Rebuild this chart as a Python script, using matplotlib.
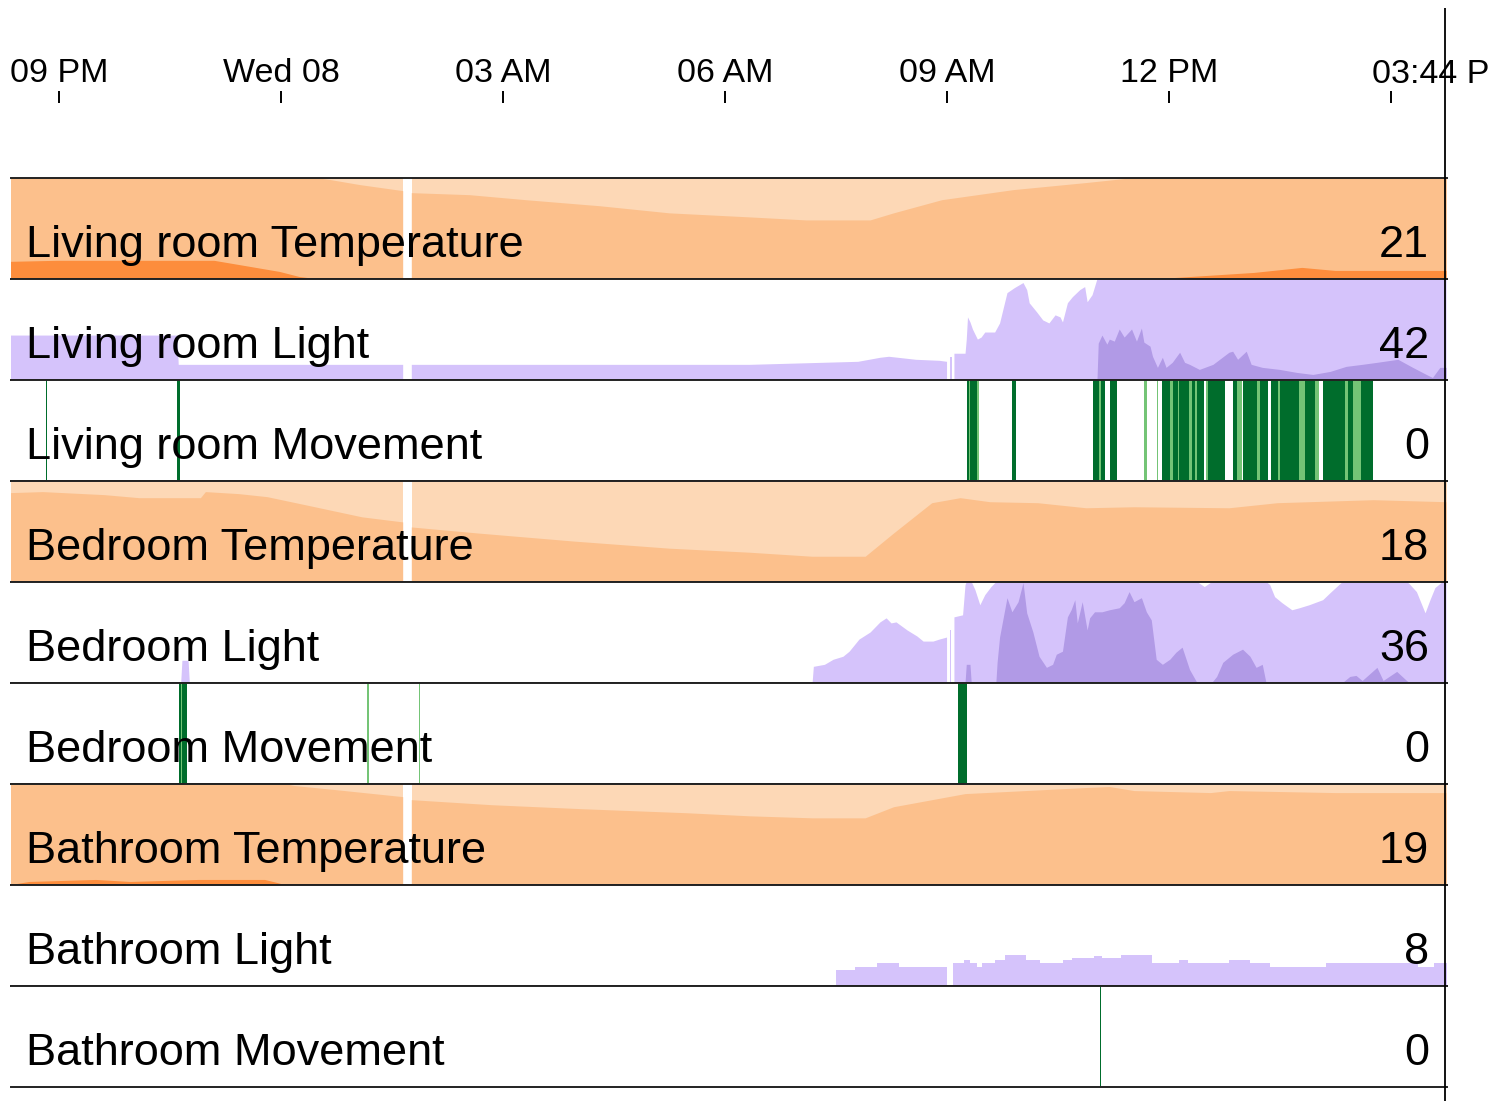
import numpy as np
import matplotlib
matplotlib.use("Agg")
import matplotlib.pyplot as plt
import matplotlib.transforms as mtransforms

plt.rcParams['font.family'] = ['Liberation Sans', 'DejaVu Sans']

nan = np.nan

# time = minutes after Tue 20:00, values are in horizon band units
t_start, t_end = 21, 1185.4
focus_t = 1184  # 03:44 PM

tick_times = [60, 240, 420, 600, 780, 960, 1140]
tick_labels = ['09 PM', 'Wed 08', '03 AM', '06 AM', '09 AM', '12 PM', '']
focus_label = '03:44 PM'

row_names = ['Living room Temperature', 'Living room Light', 'Living room Movement',
             'Bedroom Temperature', 'Bedroom Light', 'Bedroom Movement',
             'Bathroom Temperature', 'Bathroom Light', 'Bathroom Movement']
row_values = ['21', '42', '0', '18', '36', '0', '19', '8', '0']

lr_temp = [(21, 2.17), (58, 2.18), (186, 2.18), (215, 2.12), (239, 2.07), (255, 2.02),
           (268, 2.0), (280, 1.98), (304, 1.93), (339, 1.87), (342, nan), (346, 1.85),
           (393, 1.83), (439, 1.78), (499, 1.72), (555, 1.65), (620, 1.61), (666, 1.58),
           (718, 1.58), (737, 1.65), (776, 1.78), (834, 1.88), (893, 1.95), (932, 2.0),
           (965, 2.01), (1029, 2.06), (1068, 2.11), (1095, 2.08), (1185, 2.08)]

bed_temp = [(21, 1.88), (47, 1.89), (97, 1.86), (125, 1.83), (175, 1.83), (179, 1.89),
            (206, 1.87), (229, 1.84), (260, 1.76), (306, 1.64), (339, 1.59), (342, nan),
            (346, 1.54), (400, 1.48), (478, 1.40), (555, 1.33), (620, 1.29), (671, 1.25),
            (714, 1.25), (737, 1.48), (768, 1.78), (791, 1.83), (815, 1.79), (854, 1.78),
            (893, 1.73), (932, 1.74), (1009, 1.73), (1048, 1.78), (1126, 1.81), (1185, 1.79)]

bath_temp = [(21, 2.0), (36, 2.03), (90, 2.05), (118, 2.03), (173, 2.05), (227, 2.05),
             (237, 2.02), (243, 2.0), (251, 1.98), (284, 1.94), (339, 1.87), (342, nan),
             (346, 1.84), (411, 1.79), (485, 1.75), (570, 1.71), (620, 1.68), (671, 1.66),
             (714, 1.66), (737, 1.77), (795, 1.90), (893, 1.96), (912, 1.97), (932, 1.93),
             (994, 1.91), (1009, 1.93), (1095, 1.91), (1185, 1.91)]

lr_light = [(21, .44), (156, .44), (157, .15), (339, .15), (342, nan), (346, .15), (620, .15),
            (708, .18), (726, .22), (733, .23), (755, .20), (774, .19), (780, .18), (781, nan),
            (782, .23), (784, .23), (785, nan), (786, .26), (795, .26), (796, .40), (797, .62),
            (799, .57), (801, .50), (805, .40), (808, .42), (811, .47), (819, .47), (823, .56),
            (825, .66), (829, .86), (835, .91), (842, .96), (845, .89), (847, .76), (853, .67),
            (858, .59), (863, .56), (868, .64), (872, .62), (874, .57), (878, .76), (882, .82),
            (888, .89), (892, .92), (894, .77), (898, .84), (900, .92), (902, 1.0), (903, 1.36),
            (906, 1.44), (910, 1.35), (912, 1.40), (916, 1.38), (920, 1.50), (924, 1.42),
            (930, 1.50), (934, 1.38), (938, 1.51), (940, 1.37), (945, 1.33), (947, 1.23),
            (951, 1.12), (955, 1.22), (958, 1.12), (963, 1.17), (969, 1.27), (973, 1.17),
            (977, 1.15), (985, 1.10), (996, 1.15), (1009, 1.27), (1012, 1.28), (1016, 1.20),
            (1023, 1.28), (1027, 1.15), (1036, 1.12), (1050, 1.10), (1064, 1.07), (1077, 1.05),
            (1091, 1.08), (1104, 1.13), (1117, 1.15), (1129, 1.17), (1146, 1.20), (1158, 1.12),
            (1169, 1.05), (1174, 1.02), (1180, 1.12), (1185, 1.12)]

bed_light = [(21, 0), (159, 0), (160, .22), (165, .22), (166, 0), (671, 0), (672, .16),
             (681, .18), (688, .23), (696, .26), (701, .31), (709, .43), (718, .50), (726, .60),
             (731, .64), (735, .59), (739, .60), (748, .52), (756, .46), (761, .41), (769, .41),
             (774, .43), (780, .45), (781, nan), (782, .52), (783, .52), (784, nan), (786, .65),
             (793, .67), (795, .97), (796, 1.18), (799, 1.18), (800, 1.0), (803, .92), (807, .77),
             (811, .87), (816, .95), (820, 1.0), (821, 1.2), (823, 1.45), (829, 1.84), (833, 1.70),
             (838, 1.80), (842, 1.99), (845, 1.69), (850, 1.50), (855, 1.26), (861, 1.15),
             (866, 1.18), (869, 1.28), (874, 1.31), (878, 1.65), (881, 1.72), (884, 1.82),
             (886, 1.59), (890, 1.80), (894, 1.52), (896, 1.64), (900, 1.70), (906, 1.70),
             (912, 1.72), (920, 1.74), (924, 1.79), (928, 1.90), (932, 1.80), (938, 1.84),
             (942, 1.70), (946, 1.62), (950, 1.23), (955, 1.18), (961, 1.23), (966, 1.30),
             (971, 1.35), (977, 1.13), (983, 1.0), (989, .95), (995, 1.0), (999, 1.06),
             (1004, 1.20), (1012, 1.28), (1020, 1.33), (1026, 1.26), (1031, 1.15), (1036, 1.18),
             (1039, 1.0), (1042, .97), (1046, .85), (1052, .79), (1060, .72), (1066, .74),
             (1074, .77), (1085, .82), (1091, .89), (1099, .98), (1101, 1.0), (1107, 1.06),
             (1112, 1.07), (1117, 1.02), (1129, 1.15), (1134, 1.02), (1145, 1.11), (1153, 1.02),
             (1155, .98), (1161, .90), (1168, .69), (1172, .82), (1176, .94), (1182, 1.0),
             (1185, 1.0)]

# stepped series
bath_light = [(21, 0), (690, .16), (705, .19), (723, .23), (741, .19), (780, .19), (781, nan),
              (785, .23), (794, .26), (799, .23), (804, .19), (808, .23), (819, .26), (827, .31),
              (844, .26), (855, .23), (874, .26), (881, .28), (899, .30), (906, .28), (921, .31),
              (946, .23), (968, .26), (975, .23), (1009, .26), (1026, .23), (1042, .19),
              (1087, .23), (1162, .19), (1175, .23), (1185, .23)]

# movement: (start, end, level) level 2 = strong, 1 = weak
lr_move = [(49, 50, 2), (156, 158, 2),
           (796, 798, 2), (798, 799, 1), (799, 804, 2), (804, 806, 1), (833, 836, 2),
           (898, 903, 2), (903, 905, 1), (905, 908, 2), (912, 918, 2), (940, 942, 1),
           (950, 951, 1), (954, 961, 2), (961, 963, 1), (963, 967, 2), (967, 968, 1),
           (968, 976, 2), (976, 979, 1), (979, 981, 2), (981, 983, 1), (983, 988, 2),
           (990, 992, 1), (992, 1005, 2), (1012, 1015, 2), (1015, 1019, 1), (1020, 1031, 2),
           (1031, 1034, 1), (1034, 1040, 2), (1043, 1048, 2), (1048, 1050, 1), (1050, 1065, 2),
           (1065, 1070, 1), (1070, 1078, 2), (1078, 1082, 1), (1085, 1103, 2), (1103, 1105, 1),
           (1105, 1109, 2), (1109, 1116, 1), (1116, 1125, 2)]
bed_move = [(157, 158.5, 2), (158.5, 160, 1), (160, 163.5, 2), (310, 311, 1), (352, 353, 1),
            (789, 796, 2)]
bath_move = [(904, 905, 2)]

temp_colors = ['#fdd8b6', '#fcc08c', '#fd8d3c']
light_colors = ['#d5c3fb', '#b19ae6']
move_colors = ['#74c476', '#006d2c']

rows = [(lr_temp, 'temp'), (lr_light, 'light'), (lr_move, 'move'),
        (bed_temp, 'temp'), (bed_light, 'light'), (bed_move, 'move'),
        (bath_temp, 'temp'), (bath_light, 'step'), (bath_move, 'move')]


def horizon(ax, pts, colors, step=None):
    t, v = np.array(pts, dtype=float).T
    for k, c in enumerate(colors):
        ax.fill_between(t, 0, np.clip(v - k, 0, 1), color=c, lw=0, step=step)


W, H = 1492, 1101
fig = plt.figure(figsize=(W / 100, H / 100), dpi=100)
left, width = 11 / W, 1436 / W
row_h = 101

for i, (data, kind) in enumerate(rows):
    top = 178 + row_h * i
    ax = fig.add_axes([left, 1 - (top + row_h) / H, width, row_h / H])
    if kind == 'temp':
        horizon(ax, data, temp_colors)
    elif kind == 'light':
        horizon(ax, data, light_colors)
    elif kind == 'step':
        horizon(ax, data, light_colors, step='post')
    else:
        s, e, lv = np.array(data, dtype=float).T
        ax.bar(s, 1, width=e - s, align='edge', lw=0,
               color=[move_colors[int(l) - 1] for l in lv])
    ax.set_xlim(t_start, t_end)
    ax.set_ylim(0, 1)
    ax.set_xticks([])
    ax.set_yticks([])
    for side in ['left', 'right']:
        ax.spines[side].set_visible(False)
    for side in ['top', 'bottom']:
        ax.spines[side].set_color('#222222')
        ax.spines[side].set_linewidth(1.4)
    ax.text(15 / 1436, 0.22, row_names[i], transform=ax.transAxes, fontsize=32.5,
            va='baseline', zorder=5)
    ax.text(1418 / 1436, 0.22, row_values[i], transform=ax.transAxes, fontsize=32.5,
            va='baseline', ha='right', zorder=5)

# time axis
ax_t = fig.add_axes([left, 1 - 104 / H, width, 1 / H])
ax_t.set_xlim(t_start, t_end)
ax_t.xaxis.tick_top()
ax_t.set_xticks(tick_times, tick_labels)
ax_t.tick_params(axis='x', direction='out', length=8.6, width=1.4, pad=1.5, labelsize=24.5)
ax_t.set_yticks([])
for s in ax_t.spines.values():
    s.set_visible(False)
ax_t.patch.set_visible(False)
trans = mtransforms.blended_transform_factory(ax_t.transData, fig.transFigure)
ax_t.text(focus_t, 1 - 83 / H, focus_label, transform=trans, ha='center', va='baseline',
          fontsize=24.5, clip_on=False)

# focus rule
ax_o = fig.add_axes([left, 0, width, 1 - 8 / H])
ax_o.set_xlim(t_start, t_end)
ax_o.axis('off')
ax_o.axvline(focus_t, color='black', lw=1.3)

fig.savefig('out.png', dpi=100)
